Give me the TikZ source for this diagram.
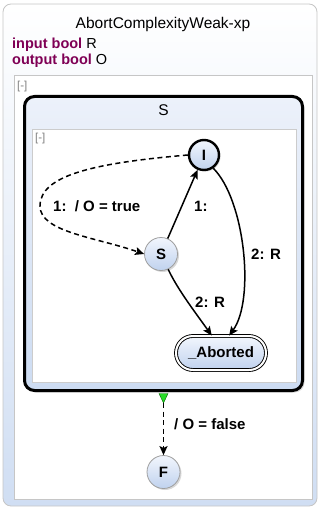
\documentclass[tikz,border=0pt]{standalone}
\usepackage{fontspec}
\setmainfont{Liberation Sans}
\usetikzlibrary{arrows.meta,shapes.misc,shadows}
\definecolor{kw}{RGB}{127,0,85}
\definecolor{nodetop}{RGB}{242,246,253}
\definecolor{nodebot}{RGB}{192,210,238}
\definecolor{macrotop}{RGB}{236,241,250}
\definecolor{macrobot}{RGB}{205,220,242}
\definecolor{outerbot}{RGB}{208,222,243}
\definecolor{trigreen}{RGB}{40,220,40}
\tikzset{
  lbl/.style={font=\fontsize{15}{17}\selectfont\bfseries, inner sep=0pt},
  stnode/.style={circle, minimum size=33pt, inner sep=0pt, draw=gray!75, line width=0.8pt,
     top color=nodetop, bottom color=nodebot, font=\fontsize{15}{17}\selectfont\bfseries,
     drop shadow={shadow xshift=1.5pt, shadow yshift=-1.5pt, opacity=0.3}},
  initnode/.style={stnode, draw=black, line width=2.4pt, minimum size=30pt},
  finalnode/.style={rounded rectangle, minimum width=90pt, minimum height=34pt, inner sep=0pt,
     draw=black, double=white, double distance=2pt, line width=0.9pt,
     top color=nodetop, bottom color=nodebot, font=\fontsize{15}{17}\selectfont\bfseries,
     drop shadow={shadow xshift=1.5pt, shadow yshift=-1.5pt, opacity=0.3}},
  macronode/.style={rectangle, rounded corners=10pt, line width=3pt, draw=black, inner sep=0pt,
     minimum width=278pt, minimum height=294pt,
     top color=macrotop, bottom color=macrobot,
     drop shadow={shadow xshift=2pt, shadow yshift=-2pt, opacity=0.3}},
  edge/.style={line width=1.5pt, -{Stealth[length=9pt,width=8pt,inset=1.8pt]}},
  dedge/.style={edge, dash pattern=on 5pt off 3.5pt},
  collapse/.style={font=\fontsize{11.5}{12}\selectfont, text=gray, inner sep=0pt, anchor=west}
}
\begin{document}
\begin{tikzpicture}[x=1pt,y=-1pt]
\useasboundingbox (0,0) rectangle (320,508);
% outer box
\draw[rounded corners=8pt, draw=gray!45, line width=0.8pt, top color=white, bottom color=outerbot]
  (3,4) rectangle (317,506);
\node[font=\fontsize{15.5}{17}\selectfont, inner sep=0pt] (title) at (163,24) {AbortComplexityWeak-xp};
\node[font=\fontsize{14.5}{16}\selectfont, inner sep=0pt, anchor=west] (decl1) at (12,45)
  {\textcolor{kw}{\bfseries input bool} R};
\node[font=\fontsize{14.5}{16}\selectfont, inner sep=0pt, anchor=west] (decl2) at (12,61)
  {\textcolor{kw}{\bfseries output bool} O};
% inner white region
\draw[draw=gray!45, line width=0.8pt, fill=white] (14,75) rectangle (312,499);
\node[collapse] (c1) at (17,87) {[-]};
% macro state S
\node[macronode] (Sm) at (163.5,243.5) {};
\node[font=\fontsize{15.5}{17}\selectfont, inner sep=0pt] (Stitle) at (163.5,110) {S};
\draw[draw=gray!40, line width=0.8pt, fill=white] (32,129) rectangle (296,382);
\node[collapse] (c2) at (35,139) {[-]};
% states
\node[initnode] (I) at (204,155) {I};
\node[stnode] (Sn) at (161,254) {S};
\node[finalnode] (Ab) at (221,353) {\_Aborted};
\node[stnode] (F) at (163.5,472) {F};
% transitions
\draw[dedge] (I.west) .. controls (95,163) and (40,175) .. (40,206)
   .. controls (40,232) and (95,237) .. (Sn.west);
\node[lbl, anchor=west] (l1) at (53,206) {1:\ \ / O = true};
\draw[edge] (Sn) -- (I);
\node[lbl, anchor=west] (l2) at (194,206) {1:};
\draw[edge] (I.-55) .. controls (245,200) and (255,300) .. (Ab.65);
\node[lbl, anchor=west] (l3) at (251,254) {2: R};
\draw[edge] (Sn.-65) .. controls (178,290) and (195,312) .. (Ab.118);
\node[lbl, anchor=west] (l4) at (195,302) {2: R};
% termination
\coordinate (tri) at (163.5,403);
\draw[fill=trigreen, draw=green!40!black, line width=0.4pt] (159,393.5) -- (168,393.5) -- (tri) -- cycle;
\draw[dedge] (tri) -- (F.north);
\node[lbl, anchor=west] (l5) at (174,424) {/ O = false};
\end{tikzpicture}
\end{document}
